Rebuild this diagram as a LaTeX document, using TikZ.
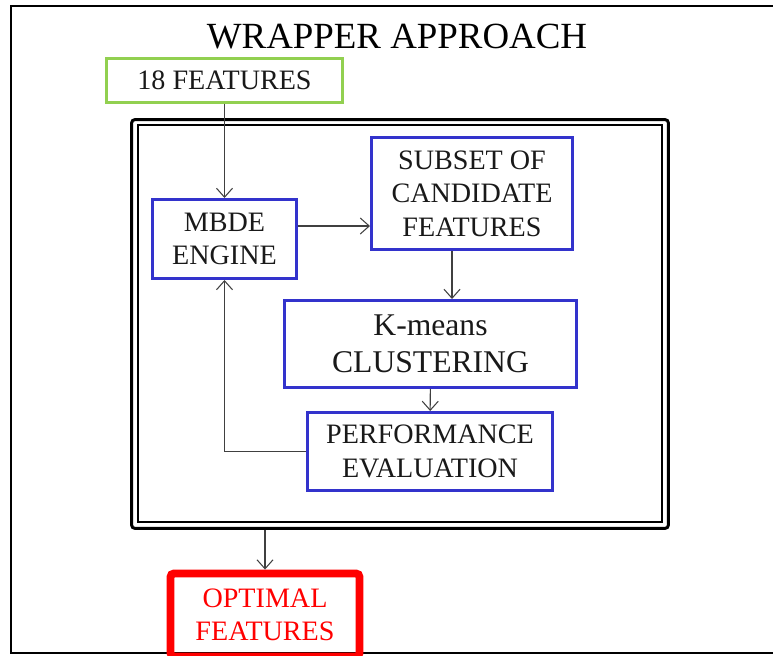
\documentclass[tikz,border=0pt]{standalone}
\usepackage{fontspec}
\setmainfont{Liberation Serif}
\usepackage{tikz}
\usetikzlibrary{shapes.geometric, arrows, arrows.meta}
\definecolor{boxblue}{RGB}{51,51,204}
\definecolor{boxgreen}{RGB}{146,208,80}
\definecolor{linegray}{RGB}{64,64,64}
\tikzstyle{stage} = [rectangle, draw=boxblue, line width=1.7pt, align=center, text=black!90, font=\fontsize{16}{19}\selectfont]
\tikzstyle{inputbox} = [rectangle, draw=boxgreen, line width=1.7pt, text=black!90, font=\fontsize{16}{19}\selectfont]
\tikzstyle{outputbox} = [rectangle, rounded corners=2pt, draw=red, line width=4.5pt, text=red, align=center, font=\fontsize{16}{19}\selectfont]
\tikzstyle{arrow} = [line width=0.6pt, draw=linegray, -{Straight Barb[length=1.8mm,width=3.2mm]}]

\begin{document}
\begin{tikzpicture}[x=0.02cm, y=-0.02cm]
		\useasboundingbox (0,0) rectangle (773,655);
		\draw [line width=1.2pt] (11,6) rectangle (800,653);
		\node (title) at (397,37) [font=\fontsize{21}{24}\selectfont] {WRAPPER APPROACH};
		\node (frame) at (400,324) [rectangle, draw, line width=1.7pt, rounded corners=2pt, minimum width=10.74cm, minimum height=8.18cm] {};
		\node (frameinner) at (400,323.5) [rectangle, draw, line width=1.1pt, minimum width=10.48cm, minimum height=7.94cm] {};
		\node (feat) at (224.5,80.5) [inputbox, minimum width=4.72cm, minimum height=0.88cm] {18 FEATURES};
		\node (mbde) at (224.5,239) [stage, minimum width=2.88cm, minimum height=1.58cm] {MBDE\\ENGINE};
		\node (subset) at (472,193.5) [stage, minimum width=4.02cm, minimum height=2.24cm] {SUBSET OF\\CANDIDATE\\FEATURES};
		\node (kmeans) at (430.5,344) [stage, minimum width=5.84cm, minimum height=1.74cm, font=\fontsize{18}{21}\selectfont] {K-means\\CLUSTERING};
		\node (perf) at (430,451.5) [stage, minimum width=4.90cm, minimum height=1.56cm] {PERFORMANCE\\EVALUATION};
		\node (optimal) at (265,615) [outputbox, minimum width=3.78cm, minimum height=1.66cm] {OPTIMAL\\FEATURES};
		\draw [arrow] (feat) -- (mbde);
		\draw [arrow] ([yshift=0.26cm]mbde.east) -- ([yshift=0.26cm]mbde.east -| subset.west);
		\draw [arrow] ([xshift=-0.4cm]subset.south) -- ([xshift=-0.4cm]subset.south |- kmeans.north);
		\draw [arrow] (kmeans) -- (perf);
		\draw [arrow] (perf.west) -| (mbde.south);
		\draw [arrow] (frame.south -| optimal.north) -- (optimal.north);
		\end{tikzpicture}
\end{document}
